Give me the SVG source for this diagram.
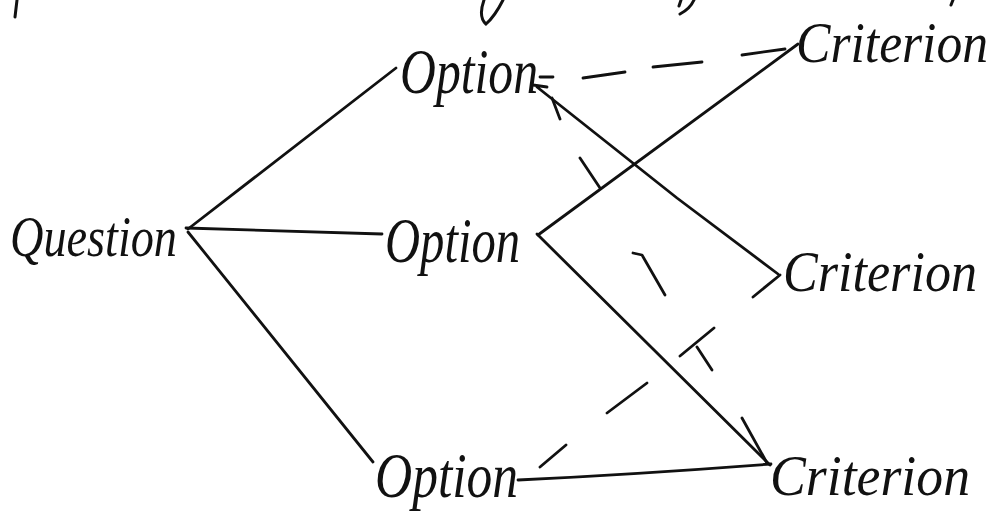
<svg xmlns="http://www.w3.org/2000/svg" width="1007" height="520" viewBox="0 0 1007 520">
  <style>
    .conn { stroke: #111; stroke-width: 2.8; fill: none; stroke-linecap: round; stroke-linejoin: round; }
    .lbl { font-family: "Liberation Serif", "DejaVu Serif", serif; font-style: italic; fill: #111; font-size: 58px; }
    .opt { font-size: 64px; }
    .frag { stroke: #111; stroke-width: 3; fill: none; stroke-linecap: round; }
  </style>
  <rect width="1007" height="520" fill="#fff"/>

  <g id="page-fragments">
    <path class="frag" d="M17,0 L15,17"/>
    <path class="frag" d="M484,0 Q478,17 486,24 Q495,16 503,0"/>
    <path class="frag" d="M694,0 Q690,9 680,14 M679,6 L681,0"/>
    <path class="frag" d="M953,0 L951,5"/>
  </g>

  <g id="connectors">
    <!-- Question to options -->
    <path class="conn" d="M188,229 L396,68"/>
    <path class="conn" d="M186,228 L382,234"/>
    <path class="conn" d="M188,232 L373,462"/>
    <!-- Option1 dashed to Criterion1 -->
    <path class="conn" d="M540,77 L553,77 M583,78 L625,72 M653,67 L702,62 M742,55 L785,49"/>
    <!-- Option2 to Criterion1 -->
    <path class="conn" d="M538,235 L798,44"/>
    <!-- Criterion2 to Option1 (arrow) -->
    <path class="conn" d="M778,274 L677,198 L537,87 M533,85 L547,87"/>
    <!-- Option2 to Criterion3 -->
    <path class="conn" d="M537,234 L770,465"/>
    <!-- Option3 to Criterion3 -->
    <path class="conn" d="M518,480 Q640,474 771,464"/>
    <!-- Option1 dashed to Criterion3 -->
    <path class="conn" d="M552,98 L560,119 M580,158 L600,188 M633,253 L642,255 L665,295 M697,347 L712,370 M742,418 L767,463"/>
    <!-- Option3 dashed to Criterion2 -->
    <path class="conn" d="M540,467 L566,445 M607,413 L647,383 M680,356 L714,328 M753,297 L780,275"/>
  </g>

  <g id="question">
    <text class="lbl" x="10" y="256" font-size="62" textLength="167" lengthAdjust="spacingAndGlyphs">Question</text>
  </g>
  <g id="option-1">
    <text class="lbl opt" x="400" y="93" textLength="138" lengthAdjust="spacingAndGlyphs">Option</text>
  </g>
  <g id="option-2">
    <text class="lbl opt" x="385" y="262" textLength="135" lengthAdjust="spacingAndGlyphs">Option</text>
  </g>
  <g id="option-3">
    <text class="lbl opt" x="375" y="497" textLength="143" lengthAdjust="spacingAndGlyphs">Option</text>
  </g>
  <g id="criterion-1">
    <text class="lbl" x="796" y="62" font-size="52" textLength="192" lengthAdjust="spacingAndGlyphs">Criterion</text>
  </g>
  <g id="criterion-2">
    <text class="lbl" x="783" y="291" textLength="194" lengthAdjust="spacingAndGlyphs">Criterion</text>
  </g>
  <g id="criterion-3">
    <text class="lbl" x="770" y="495" textLength="200" lengthAdjust="spacingAndGlyphs">Criterion</text>
  </g>
</svg>
